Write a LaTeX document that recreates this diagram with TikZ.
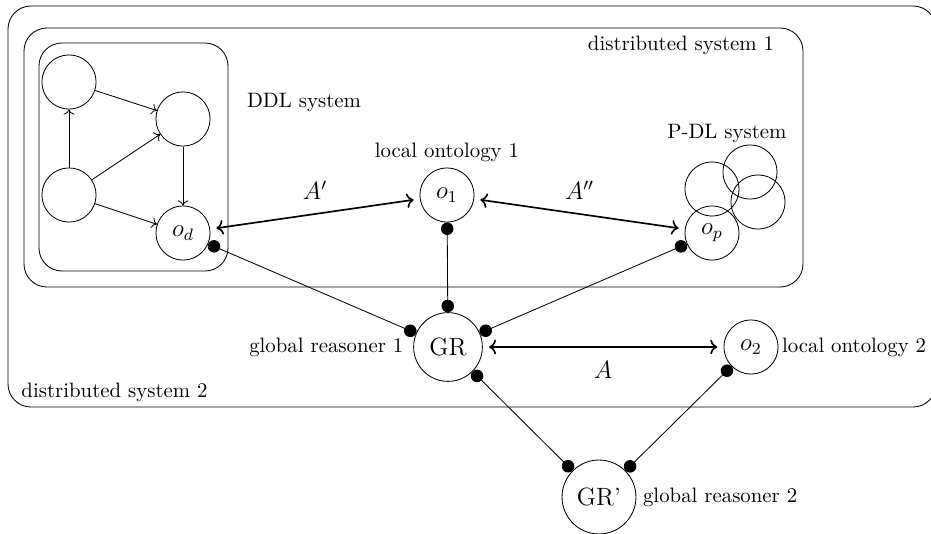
\documentclass[tikz,border=0pt]{standalone}
\usetikzlibrary{arrows.meta, positioning}
\tikzset{
    sysbox/.style={draw, rounded corners=11pt},
    plain/.style={draw, circle, minimum size=26pt, inner sep=0pt},
    onto/.style={draw, circle, minimum size=26pt, inner sep=0pt, font=\large},
    reasoner/.style={draw, circle, minimum size=33pt, inner sep=0pt, font=\large},
    caption/.style={inner sep=1pt},
    dep/.style = {->},
    mapping/.style = {<->, thick, shorten <=3pt, shorten >=3pt},
    maplabel/.style = {font=\large},
    link/.style = {arrows={Circle[length=6pt]-Circle[length=6pt]}} }

\begin{document}
\begin{tikzpicture}[x=0.48pt, y=-0.48pt]
			\useasboundingbox (0,0) rectangle (931,534);
			% ----
			\draw[sysbox] (8,6) rectangle (936,407);
			\draw[sysbox] (24,28) rectangle (803,287);
			\draw[sysbox] (39,43) rectangle (228,271);
			\node[caption, anchor=west] (ds2) at (19,392) {distributed system 2};
			\node[caption] (ds1) at (681,45) {distributed system 1};
			\node[caption] (ddl) at (304,103) {DDL system};
			\node[caption] (pdl) at (727,134) {P-DL system};
			% ----
			\node[plain] (d1) at (69,82) {};
			\node[plain] (d2) at (183,119) {};
			\node[plain] (d3) at (69,195) {};
			\node[onto] (od) at (183,233) {$o_d$};
			\node[onto] (o1) at (447,195) {$o_1$};
			\node[plain] (p1) at (712,189) {};
			\node[plain] (p2) at (750,172) {};
			\node[plain] (p3) at (758,202) {};
			\node[onto] (op) at (712,233) {$o_p$};
			\node[reasoner] (gr) at (448,347) {GR};
			\node[onto] (o2) at (751,347) {$o_2$};
			\node[reasoner, minimum size=35.5pt] (grb) at (599,497) {GR'};
			\node[caption, above = 1.5pt of o1] (lo1) {local ontology 1};
			\node[caption, left = 3.5pt of gr] (lgr) {global reasoner 1};
			\node[caption, right = 0.5pt of o2] (lo2) {local ontology 2};
			\node[caption, right = 2pt of grb] (lgrb) {global reasoner 2};
			% ----
			\draw[dep] (d3) -- (d1);
			\draw[dep] (d1) -- (d2);
			\draw[dep] (d3) -- (d2);
			\draw[dep] (d2) -- (od);
			\draw[dep] (d3) -- (od);
			% ----
			\draw[mapping] (od) -- node[maplabel, above=3pt] {$A'$} (o1);
			\draw[mapping] (o1) -- node[maplabel, above=3pt] {$A''$} (op);
			\draw[mapping] (gr) -- node[maplabel, below=3pt] {$A$} (o2);
			% ----
			\draw[link] (od) -- (gr);
			\draw[link] (o1) -- (gr);
			\draw[link] (op) -- (gr);
			\draw[link] (gr) -- (grb);
			\draw[link] (o2) -- (grb);
		\end{tikzpicture}
\end{document}
